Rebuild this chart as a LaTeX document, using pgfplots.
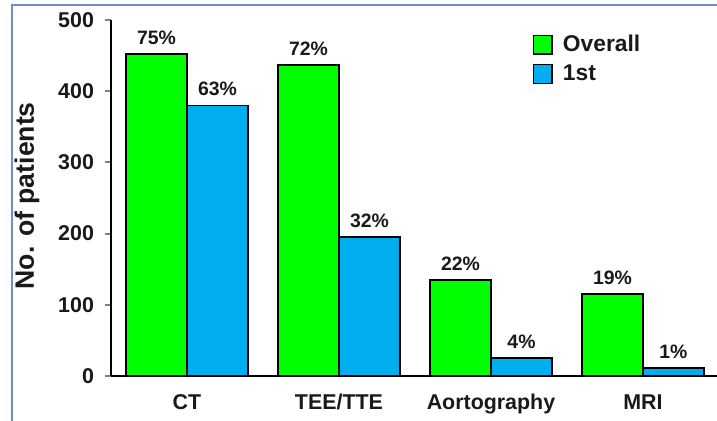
\documentclass[border=0pt]{standalone}
\usepackage{pgfplots}
\pgfplotsset{compat=1.18}
\usepackage{pgfplotstable}
\usepackage{fontspec}
\setmainfont{Liberation Sans}
\definecolor{barGreen}{RGB}{0,255,0}
\definecolor{barBlue}{RGB}{0,174,239}
\definecolor{frameBlue}{RGB}{110,140,215}
\definecolor{txt}{RGB}{25,25,25}

\pgfplotstableread{
x y lab
0 452 75\%
1 437 72\%
2 135 22\%
3 115 19\%
}\overall
\pgfplotstableread{
x y lab
0 380 63\%
1 195 32\%
2 25 4\%
3 11 1\%
}\first

\begin{document}
\begin{tikzpicture}
\useasboundingbox (0,0) rectangle (358.5pt,210.5pt);
\draw[frameBlue, line width=1pt] (6pt,0pt) -- (6pt,208pt) -- (358.5pt,208pt);
\begin{axis}[
  at={(55.5pt,22.5pt)}, anchor=south west,
  scale only axis, width=303pt, height=178pt,
  ybar=0pt, bar width=30.5pt,
  xmin=-0.5, xmax=3.487, ymin=0, ymax=500,
  axis x line*=bottom, axis y line*=left,
  axis line style={-, line width=1pt},
  xtick=data, xticklabels={CT, TEE/TTE, Aortography, MRI},
  xtick style={draw=none},
  ytick={0,100,...,500},
  ytick style={line width=1pt},
  tick align=outside, major tick length=3pt,
  /pgf/number format/assume math mode=true,
  tick label style={font=\bfseries\fontsize{10.7}{12}\selectfont, text=txt},
  xticklabel style={anchor=base, yshift=-14pt},
  yticklabel style={xshift=-2pt},
  ylabel={No. of patients},
  ylabel style={font=\bfseries\fontsize{13.3}{15}\selectfont, text=txt, at={(axis description cs:-0.1386,0.506)}, anchor=center},
  nodes near coords={\pgfplotspointmeta},
  point meta=explicit symbolic,
  every node near coord/.append style={font=\bfseries\fontsize{9.7}{11}\selectfont, text=txt, anchor=south, yshift=1pt},
  legend style={at={(axis description cs:0.695,0.97)}, anchor=north west, draw=none, fill=none,
    font=\bfseries\fontsize{11.4}{13}\selectfont, text=txt, row sep=1pt, inner sep=0pt,
    /tikz/every odd column/.append style={column sep=3pt}},
  legend cell align=left,
  legend image code/.code={\draw[#1, line width=0.8pt] (0pt,-4.7pt) rectangle (9.4pt,4.7pt);},
]
\addplot[fill=barGreen, draw=black, line width=0.9pt] table[x=x, y=y, meta=lab] {\overall};
\addplot[fill=barBlue, draw=black, line width=0.9pt] table[x=x, y=y, meta=lab] {\first};
\legend{Overall, 1st}
\end{axis}
\end{tikzpicture}
\end{document}
